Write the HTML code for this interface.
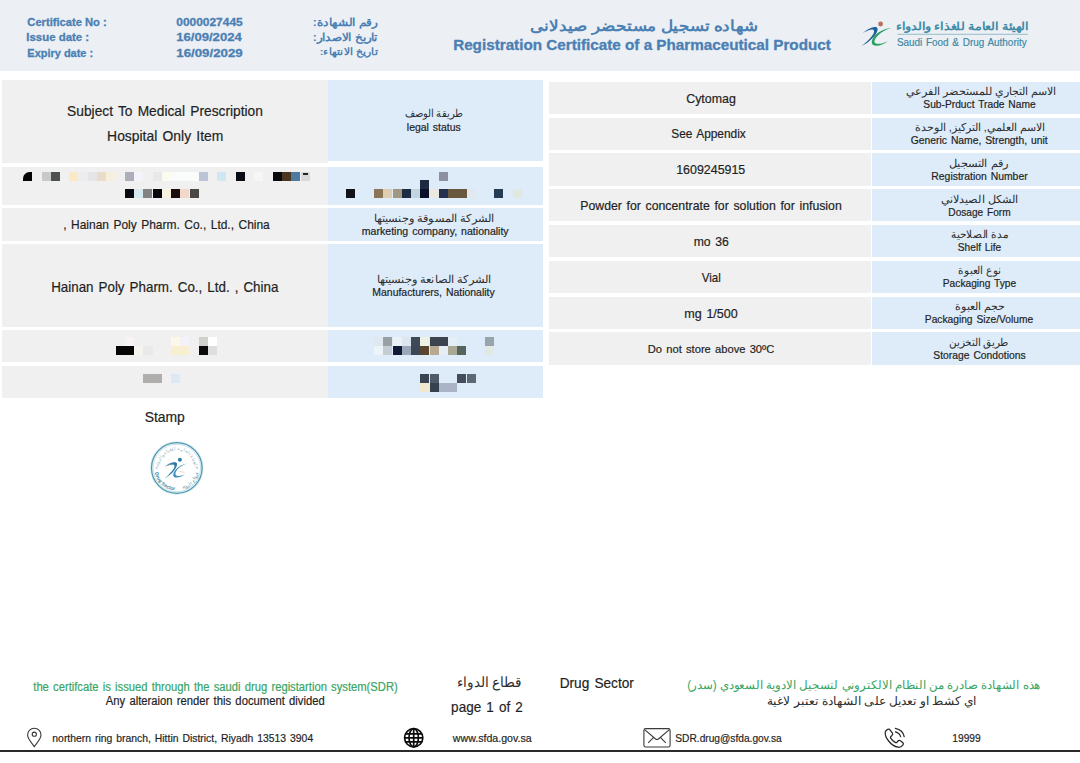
<!DOCTYPE html>
<html lang="en"><head><meta charset="utf-8"><title>Registration Certificate of a Pharmaceutical Product</title>
<style>
html,body{margin:0;padding:0;background:#fff}
body{width:1080px;height:763px;position:relative;overflow:hidden;font-family:"Liberation Sans",sans-serif}
.r{position:absolute}
.m{position:absolute;left:0;top:0;width:1080px;height:763px;filter:blur(0.5px)}
text{font-family:"Liberation Sans",sans-serif;white-space:pre}
svg{position:absolute;left:0;top:0;overflow:visible}
</style></head><body>
<div class="r" style="left:0.0px;top:0.0px;width:1080.0px;height:70.5px;background:#eceff3"></div>
<div class="r" style="left:2.3px;top:79.5px;width:325.7px;height:83.8px;background:#f0f0f0"></div>
<div class="r" style="left:328.0px;top:79.5px;width:215.3px;height:81.7px;background:#deebf8"></div>
<div class="r" style="left:2.3px;top:166.8px;width:325.7px;height:38.2px;background:#f0f0f0"></div>
<div class="r" style="left:328.0px;top:167.0px;width:215.3px;height:38.0px;background:#deebf8"></div>
<div class="r" style="left:2.3px;top:208.0px;width:325.7px;height:33.0px;background:#f0f0f0"></div>
<div class="r" style="left:328.0px;top:208.0px;width:215.3px;height:33.0px;background:#deebf8"></div>
<div class="r" style="left:2.3px;top:244.0px;width:325.7px;height:82.5px;background:#f0f0f0"></div>
<div class="r" style="left:328.0px;top:244.0px;width:215.3px;height:82.5px;background:#deebf8"></div>
<div class="r" style="left:2.3px;top:329.5px;width:325.7px;height:32.9px;background:#f0f0f0"></div>
<div class="r" style="left:328.0px;top:329.5px;width:215.3px;height:32.9px;background:#deebf8"></div>
<div class="r" style="left:2.3px;top:365.6px;width:325.7px;height:32.7px;background:#f0f0f0"></div>
<div class="r" style="left:328.0px;top:365.6px;width:215.3px;height:32.7px;background:#deebf8"></div>
<div class="r" style="left:549.3px;top:81.7px;width:322.2px;height:32.4px;background:#f0f0f0"></div>
<div class="r" style="left:871.5px;top:81.7px;width:208.5px;height:32.4px;background:#deebf8"></div>
<div class="r" style="left:549.3px;top:117.5px;width:322.2px;height:32.4px;background:#f0f0f0"></div>
<div class="r" style="left:871.5px;top:117.5px;width:208.5px;height:32.4px;background:#deebf8"></div>
<div class="r" style="left:549.3px;top:153.3px;width:322.2px;height:32.4px;background:#f0f0f0"></div>
<div class="r" style="left:871.5px;top:153.3px;width:208.5px;height:32.4px;background:#deebf8"></div>
<div class="r" style="left:549.3px;top:189.1px;width:322.2px;height:32.4px;background:#f0f0f0"></div>
<div class="r" style="left:871.5px;top:189.1px;width:208.5px;height:32.4px;background:#deebf8"></div>
<div class="r" style="left:549.3px;top:224.9px;width:322.2px;height:32.4px;background:#f0f0f0"></div>
<div class="r" style="left:871.5px;top:224.9px;width:208.5px;height:32.4px;background:#deebf8"></div>
<div class="r" style="left:549.3px;top:260.7px;width:322.2px;height:32.4px;background:#f0f0f0"></div>
<div class="r" style="left:871.5px;top:260.7px;width:208.5px;height:32.4px;background:#deebf8"></div>
<div class="r" style="left:549.3px;top:296.5px;width:322.2px;height:32.4px;background:#f0f0f0"></div>
<div class="r" style="left:871.5px;top:296.5px;width:208.5px;height:32.4px;background:#deebf8"></div>
<div class="r" style="left:549.3px;top:332.3px;width:322.2px;height:32.4px;background:#f0f0f0"></div>
<div class="r" style="left:871.5px;top:332.3px;width:208.5px;height:32.4px;background:#deebf8"></div>
<div class="r" style="left:0.0px;top:750.0px;width:1080.0px;height:1.6px;background:#2a2a2a"></div>
<div class="m">
<div class="r" style="left:23.0px;top:171.8px;width:9.2px;height:8.9px;background:#050505;border-top-left-radius:6.5px"></div>
<div class="r" style="left:41.5px;top:171.8px;width:9.2px;height:8.9px;background:#c9c9cb"></div>
<div class="r" style="left:50.8px;top:171.8px;width:9.2px;height:8.9px;background:#4d5152"></div>
<div class="r" style="left:69.2px;top:171.8px;width:9.2px;height:8.9px;background:#fbe9c6"></div>
<div class="r" style="left:78.5px;top:171.8px;width:9.2px;height:8.9px;background:#ececee"></div>
<div class="r" style="left:87.8px;top:171.8px;width:9.2px;height:8.9px;background:#e7e4e8"></div>
<div class="r" style="left:97.0px;top:171.8px;width:9.2px;height:8.9px;background:#e9dccb"></div>
<div class="r" style="left:106.2px;top:171.8px;width:9.2px;height:8.9px;background:#f6efde"></div>
<div class="r" style="left:124.8px;top:171.8px;width:9.2px;height:8.9px;background:#aeadba"></div>
<div class="r" style="left:134.0px;top:171.8px;width:9.2px;height:8.9px;background:#f3f3f9"></div>
<div class="r" style="left:152.5px;top:171.8px;width:9.2px;height:8.9px;background:#e7e9e7"></div>
<div class="r" style="left:161.8px;top:171.8px;width:9.2px;height:8.9px;background:#fbfbf0"></div>
<div class="r" style="left:171.0px;top:171.8px;width:27.8px;height:8.9px;background:#fafcfc"></div>
<div class="r" style="left:198.8px;top:171.8px;width:9.2px;height:8.9px;background:#bac4d6"></div>
<div class="r" style="left:217.2px;top:171.8px;width:9.2px;height:8.9px;background:#d2e5f2"></div>
<div class="r" style="left:235.8px;top:171.8px;width:9.2px;height:8.9px;background:#0b0d14"></div>
<div class="r" style="left:254.2px;top:171.8px;width:9.2px;height:8.9px;background:#f6f6f6"></div>
<div class="r" style="left:272.8px;top:171.8px;width:9.2px;height:8.9px;background:#0a0a0e"></div>
<div class="r" style="left:282.0px;top:171.8px;width:9.2px;height:8.9px;background:#4b3621"></div>
<div class="r" style="left:291.2px;top:171.8px;width:9.2px;height:8.9px;background:#4c7b9f"></div>
<div class="r" style="left:300.5px;top:171.8px;width:9.2px;height:8.9px;background:#d9d9d9"></div>
<div class="r" style="left:303px;top:173px;width:5px;height:1.6px;background:#222"></div>
<div class="r" style="left:124.8px;top:189.3px;width:9.2px;height:8.9px;background:#0a0a12"></div>
<div class="r" style="left:134.0px;top:189.3px;width:9.2px;height:8.9px;background:#d6e8f0"></div>
<div class="r" style="left:143.2px;top:189.3px;width:9.2px;height:8.9px;background:#838383"></div>
<div class="r" style="left:152.5px;top:189.3px;width:9.2px;height:8.9px;background:#08080c"></div>
<div class="r" style="left:161.8px;top:189.3px;width:9.2px;height:8.9px;background:#f8f2dc"></div>
<div class="r" style="left:171.0px;top:189.3px;width:9.2px;height:8.9px;background:#1a0d0b"></div>
<div class="r" style="left:180.2px;top:189.3px;width:9.2px;height:8.9px;background:#f0d9c9"></div>
<div class="r" style="left:189.5px;top:189.3px;width:9.2px;height:8.9px;background:#4b4743"></div>
<div class="r" style="left:346.3px;top:189.0px;width:9.2px;height:8.9px;background:#111318"></div>
<div class="r" style="left:374.1px;top:189.0px;width:9.2px;height:8.9px;background:#8a7558"></div>
<div class="r" style="left:383.3px;top:189.0px;width:9.2px;height:8.9px;background:#e0cdb0"></div>
<div class="r" style="left:392.6px;top:189.0px;width:9.2px;height:8.9px;background:#a09880"></div>
<div class="r" style="left:401.8px;top:189.0px;width:9.2px;height:8.9px;background:#1c2c44"></div>
<div class="r" style="left:411.1px;top:189.0px;width:9.2px;height:8.9px;background:#c0d4e2"></div>
<div class="r" style="left:420.3px;top:180.2px;width:9.2px;height:8.9px;background:#1e2a40"></div>
<div class="r" style="left:420.3px;top:189.0px;width:9.2px;height:8.9px;background:#0c1028"></div>
<div class="r" style="left:429.6px;top:189.0px;width:9.2px;height:8.9px;background:#ebe9df"></div>
<div class="r" style="left:438.8px;top:189.0px;width:9.2px;height:8.9px;background:#243050"></div>
<div class="r" style="left:448.1px;top:189.0px;width:18.5px;height:8.9px;background:#6a583e"></div>
<div class="r" style="left:466.6px;top:189.0px;width:9.2px;height:8.9px;background:#e2e8ee"></div>
<div class="r" style="left:494.3px;top:189.0px;width:9.2px;height:8.9px;background:#243c54"></div>
<div class="r" style="left:512.8px;top:189.0px;width:9.2px;height:8.9px;background:#e1e8de"></div>
<div class="r" style="left:438.8px;top:171.8px;width:9.2px;height:8.9px;background:#8c90a0"></div>
<div class="r" style="left:115.5px;top:346.0px;width:18.5px;height:8.9px;background:#060606"></div>
<div class="r" style="left:134.1px;top:346.0px;width:9.2px;height:8.9px;background:#f6f4ee"></div>
<div class="r" style="left:143.4px;top:346.0px;width:9.2px;height:8.9px;background:#e9e9e9"></div>
<div class="r" style="left:125.0px;top:336.7px;width:9.2px;height:8.9px;background:#f7f3f5"></div>
<div class="r" style="left:170.7px;top:336.7px;width:9.2px;height:8.9px;background:#fbf8e8"></div>
<div class="r" style="left:170.7px;top:346.0px;width:18.5px;height:8.9px;background:#f8efd0"></div>
<div class="r" style="left:180.0px;top:336.7px;width:9.2px;height:8.9px;background:#f4f2f8"></div>
<div class="r" style="left:198.9px;top:336.7px;width:9.2px;height:8.9px;background:#d2d0cc"></div>
<div class="r" style="left:208.1px;top:336.7px;width:9.2px;height:8.9px;background:#ffffff"></div>
<div class="r" style="left:198.9px;top:346.0px;width:9.2px;height:8.9px;background:#0c0a0a"></div>
<div class="r" style="left:208.1px;top:346.0px;width:9.2px;height:8.9px;background:#dedede"></div>
<div class="r" style="left:143.3px;top:374.0px;width:18.5px;height:8.9px;background:#b0adad"></div>
<div class="r" style="left:170.7px;top:374.0px;width:9.2px;height:8.9px;background:#dde8f6"></div>
<div class="r" style="left:374.1px;top:336.7px;width:9.2px;height:8.9px;background:#dfe8ee"></div>
<div class="r" style="left:383.3px;top:336.7px;width:9.2px;height:8.9px;background:#98a0a4"></div>
<div class="r" style="left:392.6px;top:336.7px;width:9.2px;height:8.9px;background:#eaf2f8"></div>
<div class="r" style="left:401.8px;top:336.7px;width:9.2px;height:8.9px;background:#dce6f0"></div>
<div class="r" style="left:411.1px;top:336.7px;width:9.2px;height:8.9px;background:#3e4a58"></div>
<div class="r" style="left:420.3px;top:336.7px;width:9.2px;height:8.9px;background:#eef2e4"></div>
<div class="r" style="left:429.6px;top:336.7px;width:18.5px;height:8.9px;background:#3c4450"></div>
<div class="r" style="left:448.1px;top:336.7px;width:9.2px;height:8.9px;background:#e4eef6"></div>
<div class="r" style="left:485.1px;top:336.7px;width:9.2px;height:8.9px;background:#98a4ac"></div>
<div class="r" style="left:374.1px;top:346.0px;width:9.2px;height:8.9px;background:#ecf4f8"></div>
<div class="r" style="left:383.3px;top:346.0px;width:9.2px;height:8.9px;background:#c4ccd4"></div>
<div class="r" style="left:392.6px;top:346.0px;width:9.2px;height:8.9px;background:#101a36"></div>
<div class="r" style="left:401.8px;top:346.0px;width:9.2px;height:8.9px;background:#9aa8b8"></div>
<div class="r" style="left:411.1px;top:346.0px;width:9.2px;height:8.9px;background:#3a4856"></div>
<div class="r" style="left:420.3px;top:346.0px;width:9.2px;height:8.9px;background:#5a4630"></div>
<div class="r" style="left:429.6px;top:346.0px;width:9.2px;height:8.9px;background:#b8aa90"></div>
<div class="r" style="left:438.8px;top:346.0px;width:9.2px;height:8.9px;background:#e6eef4"></div>
<div class="r" style="left:448.1px;top:346.0px;width:9.2px;height:8.9px;background:#a8a894"></div>
<div class="r" style="left:457.3px;top:346.0px;width:9.2px;height:8.9px;background:#566460"></div>
<div class="r" style="left:485.1px;top:346.0px;width:9.2px;height:8.9px;background:#e0e9e2"></div>
<div class="r" style="left:420.3px;top:374.0px;width:9.2px;height:8.9px;background:#3a4452"></div>
<div class="r" style="left:429.6px;top:374.0px;width:9.2px;height:8.9px;background:#4e5a68"></div>
<div class="r" style="left:457.3px;top:374.0px;width:9.2px;height:8.9px;background:#444e5a"></div>
<div class="r" style="left:466.6px;top:374.0px;width:9.2px;height:8.9px;background:#5e6872"></div>
<div class="r" style="left:420.3px;top:383.0px;width:9.2px;height:8.9px;background:#efe7d0"></div>
<div class="r" style="left:429.6px;top:383.0px;width:9.2px;height:8.9px;background:#36424e"></div>
<div class="r" style="left:438.8px;top:383.0px;width:18.5px;height:8.9px;background:#aab4c6"></div>
</div>
<svg width="1080" height="763" viewBox="0 0 1080 763" fill="none">
<!-- logo -->
<g>
<circle cx="880.6" cy="24" r="2.4" fill="#b4705a"/>
<path d="M862.3 33.4 C868 28.5 873 26.2 876.5 27.2 C879.5 29 876 35 871 39.5 C867.5 42.6 864.5 44.6 861.6 46 C866 42.5 870.5 38.5 873 34.5 C875 31 874 29.2 871.5 29.5 C868.5 30 865.5 31.5 862.3 33.4 Z" fill="#1f5f9a"/>
<path d="M891.4 28 C886 29.5 881.5 32 878 35.5 C874.5 39 873.5 42 875.5 43.2 C878 44.5 883 43.5 887.8 41.2 C884 44.6 877 46.6 873.6 45.2 C870.5 43.6 871.5 39 875.5 34.8 C879.5 31 885 28.6 891.4 28 Z" fill="#2aa162"/>
<path d="M897.5 34.3 H1028" stroke="#7fb0c0" stroke-width="0.8"/>
</g>
<!-- stamp -->
<g>
<circle cx="176.8" cy="468" r="25.4" stroke="#d8f0f6" stroke-width="2.6"/>
<circle cx="176.8" cy="468" r="25.3" stroke="#5796ad" stroke-width="1.25"/>
<circle cx="176.8" cy="468" r="23.7" stroke="#a4cbd9" stroke-width="0.55"/>
<path id="stTop" d="M159.1 468 A17.7 17.7 0 0 1 194.5 468"/>
<path id="stBot" d="M154.4 468 A22.4 22.4 0 0 0 199.2 468"/>
<text font-family="'Liberation Sans',sans-serif" font-size="4.6" fill="#8fb6c2" stroke="none" text-anchor="middle"><textPath href="#stTop" startOffset="50%">الهيئة العامة للغذاء والدواء</textPath></text>
<text font-family="'Liberation Sans',sans-serif" font-size="4.9" font-weight="700" fill="#3f8299" stroke="none"><textPath href="#stBot" startOffset="7%">Drug Sector</textPath></text>
<text font-family="'Liberation Sans',sans-serif" font-size="4.8" fill="#5d97ab" stroke="none" text-anchor="middle"><textPath href="#stBot" startOffset="76%">قطاع الدواء</textPath></text>
<path d="M155.6 468 H157.6 M196.2 468 H198.2" stroke="#5b93a6" stroke-width="0.7"/>
<circle cx="179.9" cy="459.8" r="2" fill="#2e7da6"/>
<path d="M165.5 466.2 C169 463 173.4 461.6 176.2 462.6 C178.4 464 176.2 468.8 172.6 472.6 C170 475.2 167.2 477 164.6 478.4 C168.4 475.2 172 471.4 174 468.2 C175.2 465.8 174.4 464.4 172.4 464.6 C170 464.9 168 465.5 165.5 466.2 Z" fill="#2a7aa6"/>
<path d="M187.4 463.6 C183.2 464.8 179.8 466.8 177.4 469.6 C175.2 472.2 174.8 474.6 176.2 475.6 C178 476.6 181.6 475.8 185 474.2 C182 476.8 177 478.2 174.6 477.2 C172.4 476 173 472.6 175.8 469.4 C178.8 466.2 182.8 464.2 187.4 463.6 Z" fill="#3c8fc0"/>
<path d="M164.4 467 L171.5 463.4 M178.6 471.2 L184.6 472.4" stroke="#d9b9b9" stroke-width="0.5"/>
</g>
<!-- pin -->
<g stroke="#3a3a3a" stroke-width="1.1">
<path d="M34.3 746.6 C31.5 742.5 27.6 738.6 27.6 734.9 A6.7 6.7 0 0 1 41 734.9 C41 738.6 37.1 742.5 34.3 746.6 Z"/>
<circle cx="34.3" cy="734.2" r="2.1"/>
</g>
<!-- globe -->
<g stroke="#0c0c0c" stroke-width="1.7">
<circle cx="413.7" cy="737.8" r="9.1"/>
<ellipse cx="413.7" cy="737.8" rx="4.7" ry="9.1"/>
<path d="M413.7 728.6 V747 M404.5 737.8 H422.9 M405.6 733.8 H421.8 M405.6 741.8 H421.8"/>
</g>
<!-- envelope -->
<g stroke="#3a3a3a" stroke-width="1.1" stroke-linejoin="round">
<rect x="643.9" y="728.6" width="26.2" height="18.4" rx="1.8"/>
<path d="M644.6 729.6 L655.6 739 Q657 740 658.4 739 L669.4 729.6 M648.2 742.8 L653.6 737.4 M665.8 742.8 L660.4 737.4"/>
</g>
<!-- phone -->
<g stroke="#262626" stroke-width="1.25" stroke-linecap="round" stroke-linejoin="round">
<path d="M887.2 729.6 C888.3 728.7 889.3 728.9 890 729.8 L892.4 733 C893 733.9 892.8 734.7 892 735.4 L890.8 736.4 C890.3 736.9 890.3 737.5 890.7 738.2 C891.8 739.9 893.4 741.4 895.2 742.4 C895.9 742.8 896.5 742.7 897 742.2 L898 741 C898.7 740.2 899.5 740.1 900.4 740.7 L902.6 742.4 C903.5 743.1 903.6 744.1 902.8 745.1 C901.6 746.6 899.9 747.5 898 747.2 C894.6 746.6 891.2 744.3 888.6 741 C886.2 738 884.9 734.8 885.2 732.4 C885.4 731.2 886.1 730.3 887.2 729.6 Z"/>
<path d="M895.4 728.4 C899.9 729.4 903.4 732.3 904.2 736.6 M895.4 731.8 C898 732.5 900 734.1 900.6 736.6"/>
</g>
</svg>

<svg width="1080" height="763" viewBox="0 0 1080 763">
<text x="27.33" y="26.0" font-size="11.2" font-weight="700" fill="#4a80b4" stroke="#4a80b4" stroke-width="0.3" textLength="79.34" lengthAdjust="spacingAndGlyphs">Certificate No :</text>
<text x="26.33" y="41.0" font-size="11.2" font-weight="700" fill="#4a80b4" stroke="#4a80b4" stroke-width="0.3" textLength="62.84" lengthAdjust="spacingAndGlyphs">Issue date :</text>
<text x="27.33" y="56.5" font-size="11.2" font-weight="700" fill="#4a80b4" stroke="#4a80b4" stroke-width="0.3" textLength="65.84" lengthAdjust="spacingAndGlyphs">Expiry date :</text>
<text x="176.33" y="26.0" font-size="11.2" font-weight="700" fill="#4a80b4" stroke="#4a80b4" stroke-width="0.3" textLength="66.34" lengthAdjust="spacingAndGlyphs">0000027445</text>
<text x="176.33" y="41.0" font-size="11.2" font-weight="700" fill="#4a80b4" stroke="#4a80b4" stroke-width="0.3" textLength="65.34" lengthAdjust="spacingAndGlyphs">16/09/2024</text>
<text x="176.33" y="56.5" font-size="11.2" font-weight="700" fill="#4a80b4" stroke="#4a80b4" stroke-width="0.3" textLength="66.34" lengthAdjust="spacingAndGlyphs">16/09/2029</text>
<text x="453.15" y="49.5" font-size="14.2" font-weight="700" fill="#4a80b4" stroke="#4a80b4" stroke-width="0.3" textLength="377.70" lengthAdjust="spacingAndGlyphs">Registration Certificate of a Pharmaceutical Product</text>
<text x="896.88" y="46.0" font-size="10.4" fill="#3f8aa6" stroke="#3f8aa6" stroke-width="0.2" word-spacing="1.04" textLength="129.75" lengthAdjust="spacingAndGlyphs">Saudi Food &amp; Drug Authority</text>
<text x="67.12" y="116.0" font-size="14.6" fill="#1f1f1f" stroke="#1f1f1f" stroke-width="0.2" word-spacing="1.46" textLength="195.75" lengthAdjust="spacingAndGlyphs">Subject To Medical Prescription</text>
<text x="107.12" y="140.5" font-size="14.6" fill="#1f1f1f" stroke="#1f1f1f" stroke-width="0.2" word-spacing="1.46" textLength="116.25" lengthAdjust="spacingAndGlyphs">Hospital Only Item</text>
<text x="406.84" y="130.5" font-size="11" fill="#1f1f1f" stroke="#1f1f1f" stroke-width="0.2" word-spacing="1.10" textLength="53.82" lengthAdjust="spacingAndGlyphs">legal status</text>
<text x="63.24" y="229.0" font-size="12.6" fill="#1f1f1f" stroke="#1f1f1f" stroke-width="0.2" word-spacing="1.26" textLength="206.51" lengthAdjust="spacingAndGlyphs">, Hainan Poly Pharm. Co., Ltd., China</text>
<text x="361.84" y="235.0" font-size="11" fill="#1f1f1f" stroke="#1f1f1f" stroke-width="0.2" word-spacing="1.10" textLength="146.82" lengthAdjust="spacingAndGlyphs">marketing company, nationality</text>
<text x="51.15" y="291.5" font-size="14.2" fill="#1f1f1f" stroke="#1f1f1f" stroke-width="0.2" word-spacing="1.42" textLength="227.20" lengthAdjust="spacingAndGlyphs">Hainan Poly Pharm. Co., Ltd. , China</text>
<text x="372.34" y="296.0" font-size="11" fill="#1f1f1f" stroke="#1f1f1f" stroke-width="0.2" word-spacing="1.10" textLength="122.32" lengthAdjust="spacingAndGlyphs">Manufacturers, Nationality</text>
<text x="144.65" y="421.5" font-size="14.2" fill="#1f1f1f" stroke="#1f1f1f" stroke-width="0.2" word-spacing="1.42" textLength="40.20" lengthAdjust="spacingAndGlyphs">Stamp</text>
<text x="686.22" y="102.5" font-size="13" fill="#1f1f1f" stroke="#1f1f1f" stroke-width="0.2" word-spacing="1.30" textLength="49.56" lengthAdjust="spacingAndGlyphs">Cytomag</text>
<text x="671.22" y="138.0" font-size="13" fill="#1f1f1f" stroke="#1f1f1f" stroke-width="0.2" word-spacing="1.30" textLength="74.56" lengthAdjust="spacingAndGlyphs">See Appendix</text>
<text x="676.22" y="174.0" font-size="13" fill="#1f1f1f" stroke="#1f1f1f" stroke-width="0.2" word-spacing="1.30" textLength="69.06" lengthAdjust="spacingAndGlyphs">1609245915</text>
<text x="580.22" y="210.0" font-size="13" fill="#1f1f1f" stroke="#1f1f1f" stroke-width="0.2" word-spacing="1.30" textLength="261.56" lengthAdjust="spacingAndGlyphs">Powder for concentrate for solution for infusion</text>
<text x="693.72" y="246.0" font-size="13" fill="#1f1f1f" stroke="#1f1f1f" stroke-width="0.2" word-spacing="1.30" textLength="35.06" lengthAdjust="spacingAndGlyphs">mo 36</text>
<text x="701.72" y="282.0" font-size="13" fill="#1f1f1f" stroke="#1f1f1f" stroke-width="0.2" word-spacing="1.30" textLength="19.06" lengthAdjust="spacingAndGlyphs">Vial</text>
<text x="684.22" y="317.5" font-size="13" fill="#1f1f1f" stroke="#1f1f1f" stroke-width="0.2" word-spacing="1.30" textLength="53.56" lengthAdjust="spacingAndGlyphs">mg 1/500</text>
<text x="647.79" y="353.0" font-size="11.8" fill="#1f1f1f" stroke="#1f1f1f" stroke-width="0.2" word-spacing="1.18" textLength="126.42" lengthAdjust="spacingAndGlyphs">Do not store above 30ºC</text>
<text x="923.34" y="108.0" font-size="11" fill="#1f1f1f" stroke="#1f1f1f" stroke-width="0.2" word-spacing="1.10" textLength="112.32" lengthAdjust="spacingAndGlyphs">Sub-Prduct Trade Name</text>
<text x="910.84" y="144.0" font-size="11" fill="#1f1f1f" stroke="#1f1f1f" stroke-width="0.2" word-spacing="1.10" textLength="136.82" lengthAdjust="spacingAndGlyphs">Generic Name, Strength, unit</text>
<text x="931.34" y="179.5" font-size="11" fill="#1f1f1f" stroke="#1f1f1f" stroke-width="0.2" word-spacing="1.10" textLength="96.32" lengthAdjust="spacingAndGlyphs">Registration Number</text>
<text x="948.34" y="215.5" font-size="11" fill="#1f1f1f" stroke="#1f1f1f" stroke-width="0.2" word-spacing="1.10" textLength="62.32" lengthAdjust="spacingAndGlyphs">Dosage Form</text>
<text x="957.84" y="251.0" font-size="11" fill="#1f1f1f" stroke="#1f1f1f" stroke-width="0.2" word-spacing="1.10" textLength="43.32" lengthAdjust="spacingAndGlyphs">Shelf Life</text>
<text x="942.84" y="287.0" font-size="11" fill="#1f1f1f" stroke="#1f1f1f" stroke-width="0.2" word-spacing="1.10" textLength="73.32" lengthAdjust="spacingAndGlyphs">Packaging Type</text>
<text x="924.84" y="323.0" font-size="11" fill="#1f1f1f" stroke="#1f1f1f" stroke-width="0.2" word-spacing="1.10" textLength="108.32" lengthAdjust="spacingAndGlyphs">Packaging Size/Volume</text>
<text x="933.34" y="358.5" font-size="11" fill="#1f1f1f" stroke="#1f1f1f" stroke-width="0.2" word-spacing="1.10" textLength="92.32" lengthAdjust="spacingAndGlyphs">Storage Condotions</text>
<text x="33.28" y="690.5" font-size="12" fill="#3aa565" stroke="#3aa565" stroke-width="0.2" word-spacing="1.20" textLength="364.44" lengthAdjust="spacingAndGlyphs">the certifcate is issued through the saudi drug registartion system(SDR)</text>
<text x="105.78" y="704.5" font-size="12" fill="#1f1f1f" stroke="#1f1f1f" stroke-width="0.2" word-spacing="1.20" textLength="218.94" lengthAdjust="spacingAndGlyphs">Any alteraion render this document divided</text>
<text x="52.33" y="742.0" font-size="11.2" fill="#1f1f1f" stroke="#1f1f1f" stroke-width="0.2" word-spacing="1.12" textLength="260.84" lengthAdjust="spacingAndGlyphs">northern ring branch, Hittin District, Riyadh 13513 3904</text>
<text x="559.65" y="687.5" font-size="14.2" fill="#1f1f1f" stroke="#1f1f1f" stroke-width="0.2" word-spacing="1.42" textLength="74.20" lengthAdjust="spacingAndGlyphs">Drug Sector</text>
<text x="451.12" y="712.0" font-size="14.6" fill="#1f1f1f" stroke="#1f1f1f" stroke-width="0.2" word-spacing="1.46" textLength="71.75" lengthAdjust="spacingAndGlyphs">page 1 of 2</text>
<text x="452.83" y="742.0" font-size="11.2" fill="#1f1f1f" stroke="#1f1f1f" stroke-width="0.2" word-spacing="1.12" textLength="78.84" lengthAdjust="spacingAndGlyphs">www.sfda.gov.sa</text>
<text x="675.33" y="742.0" font-size="11.2" fill="#1f1f1f" stroke="#1f1f1f" stroke-width="0.2" word-spacing="1.12" textLength="106.34" lengthAdjust="spacingAndGlyphs">SDR.drug@sfda.gov.sa</text>
<text x="952.33" y="742.0" font-size="11.2" fill="#1f1f1f" stroke="#1f1f1f" stroke-width="0.2" word-spacing="1.12" textLength="28.34" lengthAdjust="spacingAndGlyphs">19999</text>
<text x="345.00" y="25.5" font-size="11" font-weight="700" fill="#4a80b4" text-anchor="middle" direction="rtl" textLength="64.55" lengthAdjust="spacingAndGlyphs">رقم الشهادة:</text>
<text x="345.25" y="41.0" font-size="11" font-weight="700" fill="#4a80b4" text-anchor="middle" direction="rtl" textLength="65.05" lengthAdjust="spacingAndGlyphs">تاريخ الاصدار:</text>
<text x="348.75" y="55.0" font-size="9.8" font-weight="700" fill="#4a80b4" text-anchor="middle" direction="rtl" textLength="57.99" lengthAdjust="spacingAndGlyphs">تاريخ الانتهاء:</text>
<text x="644.00" y="31.0" font-size="14.6" font-weight="700" fill="#4a80b4" text-anchor="middle" direction="rtl" textLength="228.73" lengthAdjust="spacingAndGlyphs">شهاده تسجيل مستحضر صيدلانى</text>
<text x="962.25" y="30.0" font-size="11" font-weight="700" fill="#3f8aa6" text-anchor="middle" direction="rtl" textLength="132.05" lengthAdjust="spacingAndGlyphs">الهيئة العامة للغذاء والدواء</text>
<text x="434.00" y="117.0" font-size="11" fill="#2e2e2e" text-anchor="middle" direction="rtl" textLength="58.55" lengthAdjust="spacingAndGlyphs">طريقة الوصف</text>
<text x="434.00" y="221.5" font-size="11" fill="#2e2e2e" text-anchor="middle" direction="rtl" textLength="120.55" lengthAdjust="spacingAndGlyphs">الشركة المسوقة وجنسيتها</text>
<text x="434.00" y="282.5" font-size="11" fill="#2e2e2e" text-anchor="middle" direction="rtl" textLength="114.55" lengthAdjust="spacingAndGlyphs">الشركة الصانعة وجنسيتها</text>
<text x="981.25" y="95.0" font-size="11" fill="#2e2e2e" text-anchor="middle" direction="rtl" textLength="150.05" lengthAdjust="spacingAndGlyphs">الاسم التجاري للمستحضر الفرعي</text>
<text x="979.75" y="131.0" font-size="11" fill="#2e2e2e" text-anchor="middle" direction="rtl" textLength="130.05" lengthAdjust="spacingAndGlyphs">الاسم العلمي, التركيز, الوحدة</text>
<text x="978.75" y="166.5" font-size="11" fill="#2e2e2e" text-anchor="middle" direction="rtl" textLength="59.05" lengthAdjust="spacingAndGlyphs">رقم التسجيل</text>
<text x="979.50" y="202.5" font-size="11" fill="#2e2e2e" text-anchor="middle" direction="rtl" textLength="77.55" lengthAdjust="spacingAndGlyphs">الشكل الصيدلاني</text>
<text x="979.75" y="238.0" font-size="11" fill="#2e2e2e" text-anchor="middle" direction="rtl" textLength="57.05" lengthAdjust="spacingAndGlyphs">مدة الصلاحية</text>
<text x="979.75" y="274.0" font-size="11" fill="#2e2e2e" text-anchor="middle" direction="rtl" textLength="43.05" lengthAdjust="spacingAndGlyphs">نوع العبوة</text>
<text x="980.00" y="310.0" font-size="11" fill="#2e2e2e" text-anchor="middle" direction="rtl" textLength="49.55" lengthAdjust="spacingAndGlyphs">حجم العبوة</text>
<text x="979.00" y="345.5" font-size="11" fill="#2e2e2e" text-anchor="middle" direction="rtl" textLength="59.55" lengthAdjust="spacingAndGlyphs">طريق التخزين</text>
<text x="489.00" y="687.0" font-size="14" fill="#2e2e2e" text-anchor="middle" direction="rtl" textLength="64.70" lengthAdjust="spacingAndGlyphs">قطاع الدواء</text>
<text x="863.75" y="689.0" font-size="12" fill="#3aa565" text-anchor="middle" direction="rtl" textLength="353.10" lengthAdjust="spacingAndGlyphs">هذه الشهادة صادرة من النظام الالكتروني لتسجيل الادوية السعودي (سدر)</text>
<text x="871.75" y="704.5" font-size="12" fill="#2e2e2e" text-anchor="middle" direction="rtl" textLength="209.10" lengthAdjust="spacingAndGlyphs">اي كشط او تعديل على الشهادة تعتبر لاغية</text>
</svg>
</body></html>
